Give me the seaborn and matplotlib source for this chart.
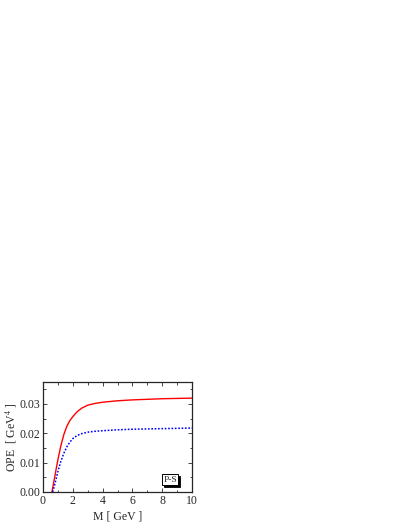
import numpy as np
import pandas as pd
import seaborn as sns
import matplotlib
matplotlib.use("Agg")
import matplotlib.pyplot as plt
from matplotlib.ticker import MultipleLocator, FormatStrFormatter
from matplotlib.patches import Rectangle

# values
m_red = [0.60, 0.70, 0.80, 0.90, 1.00, 1.20, 1.40, 1.60, 1.80, 2.00, 2.30, 2.60, 3.00, 3.50, 4.00, 5.00, 6.00, 7.00, 8.00, 9.00, 10.0]
ope_red = [0.0000, 0.0028, 0.0055, 0.0083, 0.0110, 0.0158, 0.0196, 0.0224, 0.0243, 0.0257, 0.0274, 0.0286, 0.0296, 0.0302, 0.0306, 0.0311, 0.0314, 0.0316, 0.0318, 0.0319, 0.0320]
m_blue = [0.65, 0.75, 0.85, 1.00, 1.20, 1.40, 1.60, 1.80, 2.00, 2.30, 2.60, 3.00, 3.50, 4.00, 5.00, 6.00, 7.00, 8.00, 9.00, 10.0]
ope_blue = [0.0000, 0.0018, 0.0038, 0.0070, 0.0105, 0.0132, 0.0154, 0.0170, 0.0182, 0.0193, 0.0199, 0.0204, 0.0207, 0.0209, 0.0212, 0.0214, 0.0215, 0.0216, 0.0217, 0.0218]

sns.set_style("ticks")
plt.rcParams['font.family'] = ['Liberation Serif', 'DejaVu Serif']
plt.rcParams['mathtext.fontset'] = 'stix'

fig = plt.figure(figsize=(4.09, 5.29), dpi=100)
ax = fig.add_axes([43 / 409, 1 - 492 / 529, (192 - 43) / 409, (492 - 382) / 529])

df_red = pd.DataFrame({"M": m_red, "OPE": ope_red})
df_blue = pd.DataFrame({"M": m_blue, "OPE": ope_blue})
sns.lineplot(data=df_red, x="M", y="OPE", color="red", lw=1.0, ax=ax)
sns.lineplot(data=df_blue, x="M", y="OPE", color="blue", lw=1.1, ls=(0, (1.1, 1.1)), ax=ax)

ax.set_xlim(0, 10)
ax.set_ylim(0, 0.0375)
ax.xaxis.set_major_locator(MultipleLocator(2))
ax.xaxis.set_minor_locator(MultipleLocator(1))
ax.yaxis.set_major_locator(MultipleLocator(0.01))
ax.yaxis.set_minor_locator(MultipleLocator(0.005))
ax.yaxis.set_major_formatter(FormatStrFormatter('%.2f'))
ax.tick_params(which='both', direction='in', top=True, right=True, labelsize=8.5, pad=2)
ax.tick_params(which='major', length=3, width=0.6)
ax.tick_params(which='minor', length=1.8, width=0.6)
for s in ax.spines.values():
    s.set_linewidth(0.9)

ax.set_xlabel("M [ GeV ]", fontsize=8.5, labelpad=3)
ax.set_ylabel("OPE  [ GeV$^4$ ]", fontsize=8.5, labelpad=0)

# label box with drop shadow
ax.add_patch(Rectangle((8.12, 0.0017), 1.07, 0.0037, facecolor='black', edgecolor='black', lw=0.6, zorder=3))
ax.add_patch(Rectangle((7.99, 0.0024), 1.07, 0.0037, facecolor='white', edgecolor='black', lw=0.7, zorder=4))
ax.text(8.525, 0.00425, "P-S", fontsize=6.8, ha='center', va='center', zorder=5)

fig.savefig("out.png", dpi=100)
